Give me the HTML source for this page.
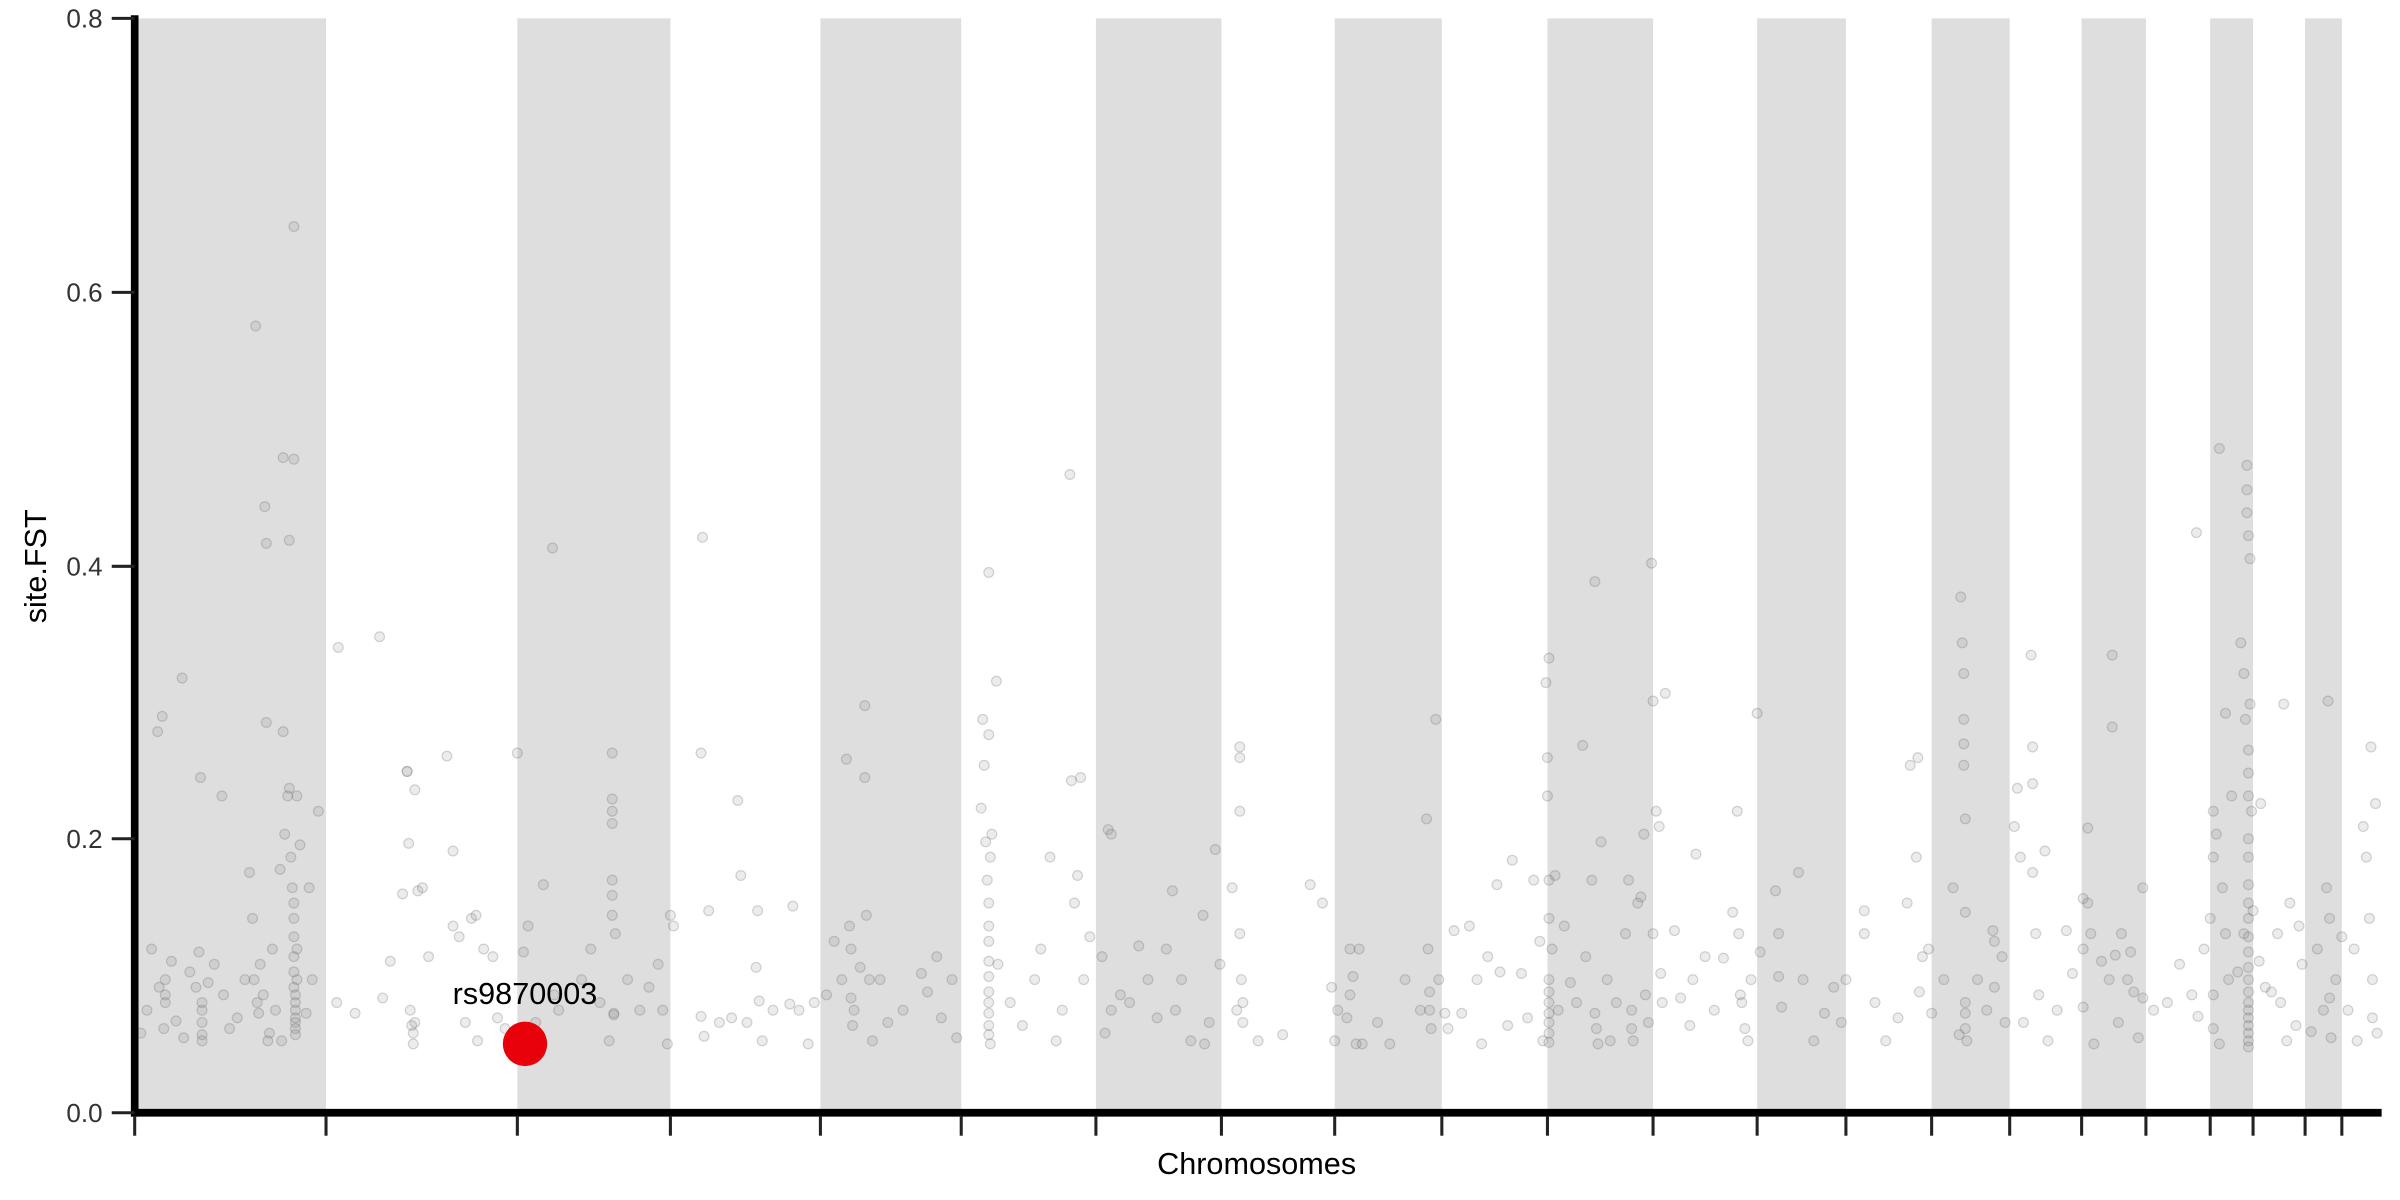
<!DOCTYPE html>
<html><head><meta charset="utf-8"><style>
html,body{margin:0;padding:0;background:#fff;}
svg{display:block;font-family:"Liberation Sans",sans-serif;}
</style></head><body>
<svg width="2400" height="1200" viewBox="0 0 1568 784" xmlns="http://www.w3.org/2000/svg">
<g fill="#dedede">
<rect x="90" y="12" width="123" height="715"/>
<rect x="338" y="12" width="100" height="715"/>
<rect x="536" y="12" width="92" height="715"/>
<rect x="716" y="12" width="82" height="715"/>
<rect x="872" y="12" width="70" height="715"/>
<rect x="1011" y="12" width="69" height="715"/>
<rect x="1148" y="12" width="58" height="715"/>
<rect x="1262" y="12" width="51" height="715"/>
<rect x="1360" y="12" width="42" height="715"/>
<rect x="1444" y="12" width="28" height="715"/>
<rect x="1506" y="12" width="24" height="715"/>
</g>
<g fill="rgba(120,120,120,0.14)" stroke="rgba(90,90,90,0.25)" stroke-width="0.8">
<circle cx="92" cy="675" r="3.2"/><circle cx="96" cy="660" r="3.2"/><circle cx="99" cy="620" r="3.2"/><circle cx="103" cy="478" r="3.2"/><circle cx="104" cy="645" r="3.2"/><circle cx="106" cy="468" r="3.2"/><circle cx="107" cy="672" r="3.2"/><circle cx="108" cy="650" r="3.2"/><circle cx="108" cy="655" r="3.2"/><circle cx="108" cy="640" r="3.2"/><circle cx="112" cy="628" r="3.2"/><circle cx="115" cy="667" r="3.2"/><circle cx="119" cy="443" r="3.2"/><circle cx="120" cy="678" r="3.2"/><circle cx="124" cy="635" r="3.2"/><circle cx="128" cy="645" r="3.2"/><circle cx="130" cy="622" r="3.2"/><circle cx="131" cy="508" r="3.2"/><circle cx="132" cy="655" r="3.2"/><circle cx="132" cy="660" r="3.2"/><circle cx="132" cy="668" r="3.2"/><circle cx="132" cy="676" r="3.2"/><circle cx="132" cy="680" r="3.2"/><circle cx="136" cy="642" r="3.2"/><circle cx="140" cy="630" r="3.2"/><circle cx="145" cy="520" r="3.2"/><circle cx="146" cy="650" r="3.2"/><circle cx="150" cy="672" r="3.2"/><circle cx="155" cy="665" r="3.2"/><circle cx="160" cy="640" r="3.2"/><circle cx="163" cy="570" r="3.2"/><circle cx="165" cy="600" r="3.2"/><circle cx="166" cy="640" r="3.2"/><circle cx="167" cy="213" r="3.2"/><circle cx="168" cy="655" r="3.2"/><circle cx="169" cy="662" r="3.2"/><circle cx="170" cy="630" r="3.2"/><circle cx="172" cy="650" r="3.2"/><circle cx="173" cy="331" r="3.2"/><circle cx="174" cy="355" r="3.2"/><circle cx="174" cy="472" r="3.2"/><circle cx="175" cy="680" r="3.2"/><circle cx="176" cy="675" r="3.2"/><circle cx="178" cy="620" r="3.2"/><circle cx="180" cy="660" r="3.2"/><circle cx="183" cy="568" r="3.2"/><circle cx="184" cy="680" r="3.2"/><circle cx="185" cy="299" r="3.2"/><circle cx="185" cy="478" r="3.2"/><circle cx="186" cy="545" r="3.2"/><circle cx="188" cy="520" r="3.2"/><circle cx="189" cy="353" r="3.2"/><circle cx="189" cy="515" r="3.2"/><circle cx="190" cy="560" r="3.2"/><circle cx="191" cy="580" r="3.2"/><circle cx="192" cy="148" r="3.2"/><circle cx="192" cy="300" r="3.2"/><circle cx="192" cy="590" r="3.2"/><circle cx="192" cy="600" r="3.2"/><circle cx="192" cy="612" r="3.2"/><circle cx="192" cy="625" r="3.2"/><circle cx="192" cy="635" r="3.2"/><circle cx="192" cy="645" r="3.2"/><circle cx="193" cy="655" r="3.2"/><circle cx="193" cy="660" r="3.2"/><circle cx="193" cy="665" r="3.2"/><circle cx="193" cy="668" r="3.2"/><circle cx="193" cy="672" r="3.2"/><circle cx="193" cy="676" r="3.2"/><circle cx="193" cy="650" r="3.2"/><circle cx="194" cy="640" r="3.2"/><circle cx="194" cy="620" r="3.2"/><circle cx="194" cy="520" r="3.2"/><circle cx="196" cy="552" r="3.2"/><circle cx="200" cy="662" r="3.2"/><circle cx="202" cy="580" r="3.2"/><circle cx="204" cy="640" r="3.2"/><circle cx="208" cy="530" r="3.2"/>
<circle cx="221" cy="423" r="3.2"/><circle cx="220" cy="655" r="3.2"/><circle cx="232" cy="662" r="3.2"/><circle cx="248" cy="416" r="3.2"/><circle cx="250" cy="652" r="3.2"/><circle cx="255" cy="628" r="3.2"/><circle cx="263" cy="584" r="3.2"/><circle cx="266" cy="504" r="3.2"/><circle cx="266" cy="504" r="3.2"/><circle cx="267" cy="551" r="3.2"/><circle cx="268" cy="660" r="3.2"/><circle cx="269" cy="670" r="3.2"/><circle cx="270" cy="675" r="3.2"/><circle cx="270" cy="682" r="3.2"/><circle cx="271" cy="668" r="3.2"/><circle cx="271" cy="516" r="3.2"/><circle cx="273" cy="582" r="3.2"/><circle cx="276" cy="580" r="3.2"/><circle cx="280" cy="625" r="3.2"/><circle cx="292" cy="494" r="3.2"/><circle cx="296" cy="556" r="3.2"/><circle cx="296" cy="605" r="3.2"/><circle cx="300" cy="612" r="3.2"/><circle cx="304" cy="668" r="3.2"/><circle cx="308" cy="600" r="3.2"/><circle cx="311" cy="598" r="3.2"/><circle cx="312" cy="680" r="3.2"/><circle cx="316" cy="620" r="3.2"/><circle cx="322" cy="625" r="3.2"/><circle cx="325" cy="665" r="3.2"/><circle cx="330" cy="672" r="3.2"/>
<circle cx="338" cy="492" r="3.2"/><circle cx="342" cy="622" r="3.2"/><circle cx="345" cy="605" r="3.2"/><circle cx="350" cy="668" r="3.2"/><circle cx="355" cy="578" r="3.2"/><circle cx="361" cy="358" r="3.2"/><circle cx="362" cy="650" r="3.2"/><circle cx="365" cy="660" r="3.2"/><circle cx="380" cy="640" r="3.2"/><circle cx="386" cy="620" r="3.2"/><circle cx="392" cy="655" r="3.2"/><circle cx="398" cy="680" r="3.2"/><circle cx="400" cy="492" r="3.2"/><circle cx="400" cy="522" r="3.2"/><circle cx="400" cy="530" r="3.2"/><circle cx="400" cy="538" r="3.2"/><circle cx="400" cy="575" r="3.2"/><circle cx="400" cy="585" r="3.2"/><circle cx="400" cy="598" r="3.2"/><circle cx="401" cy="662" r="3.2"/><circle cx="401" cy="663" r="3.2"/><circle cx="402" cy="610" r="3.2"/><circle cx="410" cy="640" r="3.2"/><circle cx="418" cy="660" r="3.2"/><circle cx="424" cy="645" r="3.2"/><circle cx="430" cy="630" r="3.2"/><circle cx="433" cy="660" r="3.2"/><circle cx="436" cy="682" r="3.2"/><circle cx="438" cy="598" r="3.2"/><circle cx="440" cy="605" r="3.2"/>
<circle cx="459" cy="351" r="3.2"/><circle cx="458" cy="492" r="3.2"/><circle cx="458" cy="664" r="3.2"/><circle cx="460" cy="677" r="3.2"/><circle cx="463" cy="595" r="3.2"/><circle cx="470" cy="668" r="3.2"/><circle cx="478" cy="665" r="3.2"/><circle cx="482" cy="523" r="3.2"/><circle cx="484" cy="572" r="3.2"/><circle cx="488" cy="668" r="3.2"/><circle cx="494" cy="632" r="3.2"/><circle cx="495" cy="595" r="3.2"/><circle cx="496" cy="654" r="3.2"/><circle cx="498" cy="680" r="3.2"/><circle cx="505" cy="660" r="3.2"/><circle cx="516" cy="656" r="3.2"/><circle cx="518" cy="592" r="3.2"/><circle cx="522" cy="660" r="3.2"/><circle cx="528" cy="682" r="3.2"/><circle cx="532" cy="655" r="3.2"/>
<circle cx="540" cy="650" r="3.2"/><circle cx="545" cy="615" r="3.2"/><circle cx="550" cy="640" r="3.2"/><circle cx="553" cy="496" r="3.2"/><circle cx="555" cy="605" r="3.2"/><circle cx="556" cy="620" r="3.2"/><circle cx="556" cy="652" r="3.2"/><circle cx="557" cy="670" r="3.2"/><circle cx="558" cy="660" r="3.2"/><circle cx="562" cy="632" r="3.2"/><circle cx="565" cy="461" r="3.2"/><circle cx="565" cy="508" r="3.2"/><circle cx="566" cy="598" r="3.2"/><circle cx="568" cy="640" r="3.2"/><circle cx="570" cy="680" r="3.2"/><circle cx="575" cy="640" r="3.2"/><circle cx="580" cy="668" r="3.2"/><circle cx="590" cy="660" r="3.2"/><circle cx="602" cy="636" r="3.2"/><circle cx="606" cy="648" r="3.2"/><circle cx="612" cy="625" r="3.2"/><circle cx="615" cy="665" r="3.2"/><circle cx="622" cy="640" r="3.2"/><circle cx="625" cy="678" r="3.2"/>
<circle cx="641" cy="528" r="3.2"/><circle cx="642" cy="470" r="3.2"/><circle cx="643" cy="500" r="3.2"/><circle cx="644" cy="550" r="3.2"/><circle cx="645" cy="575" r="3.2"/><circle cx="646" cy="374" r="3.2"/><circle cx="646" cy="480" r="3.2"/><circle cx="646" cy="590" r="3.2"/><circle cx="646" cy="605" r="3.2"/><circle cx="646" cy="615" r="3.2"/><circle cx="646" cy="628" r="3.2"/><circle cx="646" cy="638" r="3.2"/><circle cx="646" cy="648" r="3.2"/><circle cx="646" cy="655" r="3.2"/><circle cx="646" cy="662" r="3.2"/><circle cx="646" cy="670" r="3.2"/><circle cx="646" cy="676" r="3.2"/><circle cx="647" cy="682" r="3.2"/><circle cx="647" cy="560" r="3.2"/><circle cx="648" cy="545" r="3.2"/><circle cx="651" cy="445" r="3.2"/><circle cx="652" cy="630" r="3.2"/><circle cx="660" cy="655" r="3.2"/><circle cx="668" cy="670" r="3.2"/><circle cx="676" cy="640" r="3.2"/><circle cx="680" cy="620" r="3.2"/><circle cx="686" cy="560" r="3.2"/><circle cx="690" cy="680" r="3.2"/><circle cx="694" cy="660" r="3.2"/><circle cx="699" cy="310" r="3.2"/><circle cx="700" cy="510" r="3.2"/><circle cx="702" cy="590" r="3.2"/><circle cx="704" cy="572" r="3.2"/><circle cx="706" cy="508" r="3.2"/><circle cx="708" cy="640" r="3.2"/><circle cx="712" cy="612" r="3.2"/>
<circle cx="720" cy="625" r="3.2"/><circle cx="722" cy="675" r="3.2"/><circle cx="724" cy="542" r="3.2"/><circle cx="726" cy="545" r="3.2"/><circle cx="726" cy="660" r="3.2"/><circle cx="732" cy="650" r="3.2"/><circle cx="738" cy="655" r="3.2"/><circle cx="744" cy="618" r="3.2"/><circle cx="750" cy="640" r="3.2"/><circle cx="756" cy="665" r="3.2"/><circle cx="762" cy="620" r="3.2"/><circle cx="766" cy="582" r="3.2"/><circle cx="768" cy="660" r="3.2"/><circle cx="772" cy="640" r="3.2"/><circle cx="778" cy="680" r="3.2"/><circle cx="786" cy="598" r="3.2"/><circle cx="787" cy="682" r="3.2"/><circle cx="790" cy="668" r="3.2"/><circle cx="794" cy="555" r="3.2"/><circle cx="797" cy="630" r="3.2"/>
<circle cx="805" cy="580" r="3.2"/><circle cx="808" cy="660" r="3.2"/><circle cx="810" cy="488" r="3.2"/><circle cx="810" cy="495" r="3.2"/><circle cx="810" cy="530" r="3.2"/><circle cx="810" cy="610" r="3.2"/><circle cx="811" cy="640" r="3.2"/><circle cx="812" cy="655" r="3.2"/><circle cx="812" cy="668" r="3.2"/><circle cx="822" cy="680" r="3.2"/><circle cx="838" cy="676" r="3.2"/><circle cx="856" cy="578" r="3.2"/><circle cx="864" cy="590" r="3.2"/>
<circle cx="870" cy="645" r="3.2"/><circle cx="872" cy="680" r="3.2"/><circle cx="874" cy="660" r="3.2"/><circle cx="880" cy="665" r="3.2"/><circle cx="882" cy="650" r="3.2"/><circle cx="882" cy="620" r="3.2"/><circle cx="884" cy="638" r="3.2"/><circle cx="886" cy="682" r="3.2"/><circle cx="888" cy="620" r="3.2"/><circle cx="890" cy="682" r="3.2"/><circle cx="900" cy="668" r="3.2"/><circle cx="908" cy="682" r="3.2"/><circle cx="918" cy="640" r="3.2"/><circle cx="928" cy="660" r="3.2"/><circle cx="932" cy="535" r="3.2"/><circle cx="933" cy="620" r="3.2"/><circle cx="934" cy="648" r="3.2"/><circle cx="934" cy="660" r="3.2"/><circle cx="935" cy="672" r="3.2"/><circle cx="938" cy="470" r="3.2"/><circle cx="940" cy="640" r="3.2"/><circle cx="944" cy="662" r="3.2"/><circle cx="946" cy="672" r="3.2"/>
<circle cx="950" cy="608" r="3.2"/><circle cx="955" cy="662" r="3.2"/><circle cx="960" cy="605" r="3.2"/><circle cx="965" cy="640" r="3.2"/><circle cx="968" cy="682" r="3.2"/><circle cx="972" cy="625" r="3.2"/><circle cx="978" cy="578" r="3.2"/><circle cx="980" cy="635" r="3.2"/><circle cx="985" cy="670" r="3.2"/><circle cx="988" cy="562" r="3.2"/><circle cx="994" cy="636" r="3.2"/><circle cx="998" cy="665" r="3.2"/><circle cx="1002" cy="575" r="3.2"/><circle cx="1006" cy="615" r="3.2"/><circle cx="1008" cy="680" r="3.2"/>
<circle cx="1010" cy="446" r="3.2"/><circle cx="1011" cy="520" r="3.2"/><circle cx="1011" cy="495" r="3.2"/><circle cx="1012" cy="430" r="3.2"/><circle cx="1012" cy="575" r="3.2"/><circle cx="1012" cy="600" r="3.2"/><circle cx="1012" cy="640" r="3.2"/><circle cx="1012" cy="648" r="3.2"/><circle cx="1012" cy="655" r="3.2"/><circle cx="1012" cy="662" r="3.2"/><circle cx="1012" cy="668" r="3.2"/><circle cx="1012" cy="675" r="3.2"/><circle cx="1012" cy="681" r="3.2"/><circle cx="1014" cy="620" r="3.2"/><circle cx="1016" cy="572" r="3.2"/><circle cx="1018" cy="660" r="3.2"/><circle cx="1022" cy="605" r="3.2"/><circle cx="1026" cy="642" r="3.2"/><circle cx="1030" cy="655" r="3.2"/><circle cx="1034" cy="487" r="3.2"/><circle cx="1036" cy="625" r="3.2"/><circle cx="1040" cy="575" r="3.2"/><circle cx="1042" cy="380" r="3.2"/><circle cx="1042" cy="662" r="3.2"/><circle cx="1043" cy="672" r="3.2"/><circle cx="1044" cy="682" r="3.2"/><circle cx="1046" cy="550" r="3.2"/><circle cx="1050" cy="640" r="3.2"/><circle cx="1052" cy="680" r="3.2"/><circle cx="1056" cy="655" r="3.2"/><circle cx="1062" cy="610" r="3.2"/><circle cx="1064" cy="575" r="3.2"/><circle cx="1066" cy="660" r="3.2"/><circle cx="1066" cy="672" r="3.2"/><circle cx="1067" cy="680" r="3.2"/><circle cx="1070" cy="590" r="3.2"/><circle cx="1072" cy="586" r="3.2"/><circle cx="1074" cy="545" r="3.2"/><circle cx="1075" cy="650" r="3.2"/><circle cx="1077" cy="668" r="3.2"/><circle cx="1079" cy="368" r="3.2"/><circle cx="1080" cy="458" r="3.2"/><circle cx="1080" cy="610" r="3.2"/><circle cx="1082" cy="530" r="3.2"/><circle cx="1084" cy="540" r="3.2"/><circle cx="1085" cy="636" r="3.2"/><circle cx="1086" cy="655" r="3.2"/><circle cx="1088" cy="453" r="3.2"/>
<circle cx="1094" cy="608" r="3.2"/><circle cx="1098" cy="652" r="3.2"/><circle cx="1104" cy="670" r="3.2"/><circle cx="1106" cy="640" r="3.2"/><circle cx="1108" cy="558" r="3.2"/><circle cx="1114" cy="625" r="3.2"/><circle cx="1120" cy="660" r="3.2"/><circle cx="1126" cy="626" r="3.2"/><circle cx="1132" cy="596" r="3.2"/><circle cx="1135" cy="530" r="3.2"/><circle cx="1136" cy="610" r="3.2"/><circle cx="1137" cy="650" r="3.2"/><circle cx="1138" cy="655" r="3.2"/><circle cx="1140" cy="672" r="3.2"/><circle cx="1142" cy="680" r="3.2"/><circle cx="1144" cy="640" r="3.2"/><circle cx="1148" cy="466" r="3.2"/><circle cx="1150" cy="622" r="3.2"/><circle cx="1160" cy="582" r="3.2"/><circle cx="1162" cy="610" r="3.2"/><circle cx="1162" cy="638" r="3.2"/><circle cx="1164" cy="658" r="3.2"/><circle cx="1175" cy="570" r="3.2"/><circle cx="1178" cy="640" r="3.2"/><circle cx="1185" cy="680" r="3.2"/><circle cx="1192" cy="662" r="3.2"/><circle cx="1198" cy="645" r="3.2"/><circle cx="1203" cy="668" r="3.2"/>
<circle cx="1206" cy="640" r="3.2"/><circle cx="1218" cy="595" r="3.2"/><circle cx="1218" cy="610" r="3.2"/><circle cx="1225" cy="655" r="3.2"/><circle cx="1232" cy="680" r="3.2"/><circle cx="1240" cy="665" r="3.2"/><circle cx="1246" cy="590" r="3.2"/><circle cx="1248" cy="500" r="3.2"/><circle cx="1252" cy="560" r="3.2"/><circle cx="1253" cy="495" r="3.2"/><circle cx="1254" cy="648" r="3.2"/><circle cx="1256" cy="625" r="3.2"/><circle cx="1260" cy="620" r="3.2"/><circle cx="1262" cy="662" r="3.2"/>
<circle cx="1270" cy="640" r="3.2"/><circle cx="1276" cy="580" r="3.2"/><circle cx="1280" cy="676" r="3.2"/><circle cx="1281" cy="390" r="3.2"/><circle cx="1282" cy="420" r="3.2"/><circle cx="1283" cy="440" r="3.2"/><circle cx="1283" cy="470" r="3.2"/><circle cx="1283" cy="486" r="3.2"/><circle cx="1283" cy="500" r="3.2"/><circle cx="1284" cy="535" r="3.2"/><circle cx="1284" cy="596" r="3.2"/><circle cx="1284" cy="655" r="3.2"/><circle cx="1284" cy="662" r="3.2"/><circle cx="1284" cy="672" r="3.2"/><circle cx="1285" cy="680" r="3.2"/><circle cx="1292" cy="640" r="3.2"/><circle cx="1298" cy="660" r="3.2"/><circle cx="1302" cy="608" r="3.2"/><circle cx="1303" cy="615" r="3.2"/><circle cx="1303" cy="645" r="3.2"/><circle cx="1308" cy="625" r="3.2"/><circle cx="1310" cy="668" r="3.2"/>
<circle cx="1316" cy="540" r="3.2"/><circle cx="1318" cy="515" r="3.2"/><circle cx="1320" cy="560" r="3.2"/><circle cx="1322" cy="668" r="3.2"/><circle cx="1327" cy="428" r="3.2"/><circle cx="1328" cy="488" r="3.2"/><circle cx="1328" cy="512" r="3.2"/><circle cx="1328" cy="570" r="3.2"/><circle cx="1330" cy="610" r="3.2"/><circle cx="1332" cy="650" r="3.2"/><circle cx="1336" cy="556" r="3.2"/><circle cx="1338" cy="680" r="3.2"/><circle cx="1344" cy="660" r="3.2"/><circle cx="1350" cy="608" r="3.2"/><circle cx="1354" cy="636" r="3.2"/>
<circle cx="1361" cy="587" r="3.2"/><circle cx="1361" cy="620" r="3.2"/><circle cx="1361" cy="658" r="3.2"/><circle cx="1364" cy="541" r="3.2"/><circle cx="1364" cy="590" r="3.2"/><circle cx="1366" cy="610" r="3.2"/><circle cx="1368" cy="682" r="3.2"/><circle cx="1373" cy="628" r="3.2"/><circle cx="1378" cy="640" r="3.2"/><circle cx="1380" cy="428" r="3.2"/><circle cx="1380" cy="475" r="3.2"/><circle cx="1382" cy="624" r="3.2"/><circle cx="1384" cy="668" r="3.2"/><circle cx="1386" cy="610" r="3.2"/><circle cx="1390" cy="640" r="3.2"/><circle cx="1392" cy="622" r="3.2"/><circle cx="1394" cy="648" r="3.2"/><circle cx="1397" cy="678" r="3.2"/><circle cx="1400" cy="580" r="3.2"/><circle cx="1400" cy="652" r="3.2"/>
<circle cx="1407" cy="660" r="3.2"/><circle cx="1416" cy="655" r="3.2"/><circle cx="1424" cy="630" r="3.2"/><circle cx="1432" cy="650" r="3.2"/><circle cx="1435" cy="348" r="3.2"/><circle cx="1436" cy="664" r="3.2"/><circle cx="1440" cy="620" r="3.2"/><circle cx="1444" cy="600" r="3.2"/><circle cx="1446" cy="530" r="3.2"/><circle cx="1446" cy="560" r="3.2"/><circle cx="1446" cy="650" r="3.2"/><circle cx="1446" cy="672" r="3.2"/><circle cx="1448" cy="545" r="3.2"/><circle cx="1450" cy="293" r="3.2"/><circle cx="1450" cy="682" r="3.2"/><circle cx="1452" cy="580" r="3.2"/><circle cx="1454" cy="466" r="3.2"/><circle cx="1454" cy="610" r="3.2"/><circle cx="1456" cy="640" r="3.2"/><circle cx="1458" cy="520" r="3.2"/>
<circle cx="1462" cy="635" r="3.2"/><circle cx="1464" cy="420" r="3.2"/><circle cx="1466" cy="440" r="3.2"/><circle cx="1466" cy="610" r="3.2"/><circle cx="1467" cy="470" r="3.2"/><circle cx="1468" cy="304" r="3.2"/><circle cx="1468" cy="320" r="3.2"/><circle cx="1468" cy="335" r="3.2"/><circle cx="1469" cy="350" r="3.2"/><circle cx="1469" cy="490" r="3.2"/><circle cx="1469" cy="505" r="3.2"/><circle cx="1469" cy="520" r="3.2"/><circle cx="1469" cy="548" r="3.2"/><circle cx="1469" cy="560" r="3.2"/><circle cx="1469" cy="578" r="3.2"/><circle cx="1469" cy="590" r="3.2"/><circle cx="1469" cy="600" r="3.2"/><circle cx="1469" cy="612" r="3.2"/><circle cx="1469" cy="622" r="3.2"/><circle cx="1469" cy="632" r="3.2"/><circle cx="1469" cy="640" r="3.2"/><circle cx="1469" cy="648" r="3.2"/><circle cx="1469" cy="655" r="3.2"/><circle cx="1469" cy="660" r="3.2"/><circle cx="1469" cy="665" r="3.2"/><circle cx="1469" cy="670" r="3.2"/><circle cx="1469" cy="675" r="3.2"/><circle cx="1469" cy="680" r="3.2"/><circle cx="1469" cy="684" r="3.2"/><circle cx="1470" cy="365" r="3.2"/><circle cx="1470" cy="460" r="3.2"/><circle cx="1471" cy="530" r="3.2"/><circle cx="1472" cy="595" r="3.2"/><circle cx="1476" cy="628" r="3.2"/><circle cx="1477" cy="525" r="3.2"/><circle cx="1480" cy="645" r="3.2"/>
<circle cx="1484" cy="648" r="3.2"/><circle cx="1488" cy="610" r="3.2"/><circle cx="1490" cy="655" r="3.2"/><circle cx="1492" cy="460" r="3.2"/><circle cx="1494" cy="680" r="3.2"/><circle cx="1496" cy="590" r="3.2"/><circle cx="1500" cy="670" r="3.2"/><circle cx="1502" cy="605" r="3.2"/><circle cx="1504" cy="630" r="3.2"/>
<circle cx="1510" cy="674" r="3.2"/><circle cx="1514" cy="620" r="3.2"/><circle cx="1518" cy="660" r="3.2"/><circle cx="1520" cy="580" r="3.2"/><circle cx="1521" cy="458" r="3.2"/><circle cx="1522" cy="600" r="3.2"/><circle cx="1522" cy="652" r="3.2"/><circle cx="1523" cy="678" r="3.2"/><circle cx="1526" cy="640" r="3.2"/><circle cx="1530" cy="612" r="3.2"/><circle cx="1534" cy="660" r="3.2"/><circle cx="1538" cy="620" r="3.2"/><circle cx="1540" cy="680" r="3.2"/><circle cx="1544" cy="540" r="3.2"/><circle cx="1546" cy="560" r="3.2"/><circle cx="1548" cy="600" r="3.2"/><circle cx="1549" cy="488" r="3.2"/><circle cx="1550" cy="640" r="3.2"/><circle cx="1550" cy="665" r="3.2"/><circle cx="1552" cy="525" r="3.2"/><circle cx="1553" cy="675" r="3.2"/>
</g>
<circle cx="343" cy="682" r="14.5" fill="#e8000b"/>
<text x="343" y="656" font-size="20" text-anchor="middle" fill="#000">rs9870003</text>
<g stroke="#000">
<line x1="88" y1="10" x2="88" y2="729.5" stroke-width="5"/>
<line x1="86" y1="727" x2="1556" y2="727" stroke-width="5"/>
</g>
<g stroke="#222" stroke-width="2">
<line x1="73" y1="12" x2="88" y2="12"/><line x1="73" y1="191" x2="88" y2="191"/><line x1="73" y1="370" x2="88" y2="370"/><line x1="73" y1="548" x2="88" y2="548"/><line x1="73" y1="727" x2="88" y2="727"/>
<line x1="88" y1="729" x2="88" y2="742"/><line x1="213" y1="729" x2="213" y2="742"/><line x1="338" y1="729" x2="338" y2="742"/><line x1="438" y1="729" x2="438" y2="742"/><line x1="536" y1="729" x2="536" y2="742"/><line x1="628" y1="729" x2="628" y2="742"/><line x1="716" y1="729" x2="716" y2="742"/><line x1="798" y1="729" x2="798" y2="742"/><line x1="872" y1="729" x2="872" y2="742"/><line x1="942" y1="729" x2="942" y2="742"/><line x1="1011" y1="729" x2="1011" y2="742"/><line x1="1080" y1="729" x2="1080" y2="742"/><line x1="1148" y1="729" x2="1148" y2="742"/><line x1="1206" y1="729" x2="1206" y2="742"/><line x1="1262" y1="729" x2="1262" y2="742"/><line x1="1313" y1="729" x2="1313" y2="742"/><line x1="1360" y1="729" x2="1360" y2="742"/><line x1="1402" y1="729" x2="1402" y2="742"/><line x1="1444" y1="729" x2="1444" y2="742"/><line x1="1472" y1="729" x2="1472" y2="742"/><line x1="1506" y1="729" x2="1506" y2="742"/><line x1="1530" y1="729" x2="1530" y2="742"/>
</g>
<g font-size="17" fill="#333" text-anchor="end">
<text x="67" y="18">0.8</text>
<text x="67" y="197">0.6</text>
<text x="67" y="376">0.4</text>
<text x="67" y="554">0.2</text>
<text x="67" y="733">0.0</text>
</g>
<text x="821" y="767" font-size="20" text-anchor="middle" fill="#000">Chromosomes</text>
<text transform="translate(30,370) rotate(-90)" font-size="20" text-anchor="middle" fill="#000">site.FST</text>
</svg>
</body></html>
